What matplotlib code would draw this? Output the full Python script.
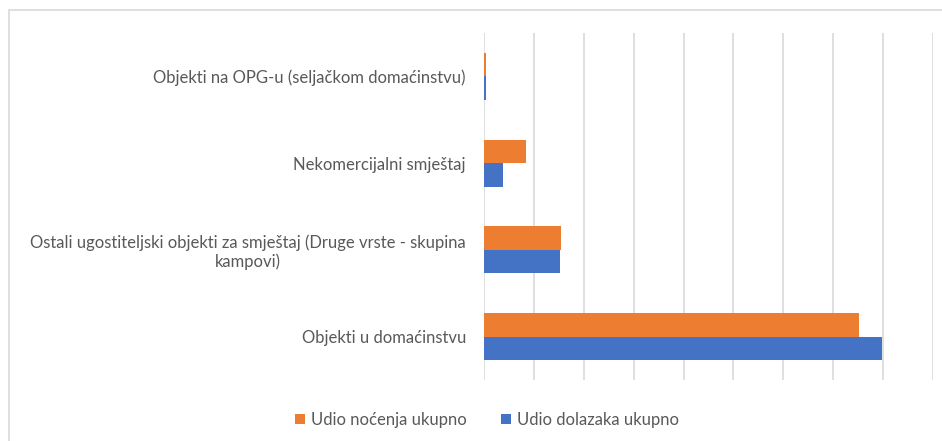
import numpy as np
import matplotlib.pyplot as plt
from matplotlib.patches import Rectangle

plt.rcParams['font.family'] = ['Lato', 'DejaVu Sans']

categories = [
    "Objekti na OPG-u (seljačkom domaćinstvu)",
    "Nekomercijalni smještaj",
    "Ostali ugostiteljski objekti za smještaj (Druge vrste - skupina\nkampovi)",
    "Objekti u domaćinstvu",
]
nocenja = [0.005, 0.084, 0.154, 0.752]   # Udio noćenja ukupno
dolasci = [0.005, 0.039, 0.152, 0.798]   # Udio dolazaka ukupno

orange = "#ED7D31"
blue = "#4472C4"
grey_txt = "#595959"

fig = plt.figure(figsize=(9.42, 4.41), dpi=100)
ax = fig.add_axes([484 / 942, 1 - 380 / 441, (933 - 484) / 942, (380 - 33) / 441])

y = np.arange(len(categories))
h = 0.27
ax.barh(y - h / 2, nocenja, height=h, color=orange, label="Udio noćenja ukupno", zorder=3)
ax.barh(y + h / 2, dolasci, height=h, color=blue, label="Udio dolazaka ukupno", zorder=3)

ax.set_ylim(len(categories) - 0.5, -0.5)
ax.set_xlim(0, 0.9)
ax.set_xticks(np.arange(0, 0.91, 0.1))
ax.set_xticklabels([])
ax.tick_params(axis='x', length=0)
ax.grid(axis='x', color="#D9D9D9", linewidth=1.2, zorder=0)
for s in ax.spines.values():
    s.set_visible(False)

ax.set_yticks(y)
ax.set_yticklabels(categories, fontsize=12, color=grey_txt, multialignment='center',
                   linespacing=1.15)
ax.tick_params(axis='y', length=0, pad=13)

handles, labels = ax.get_legend_handles_labels()
fig.legend(handles, labels, loc='center', bbox_to_anchor=(487 / 942, 1 - 420 / 441),
           ncol=2, frameon=False, fontsize=12, labelcolor=grey_txt,
           handlelength=0.6, handleheight=0.6, handletextpad=0.4, columnspacing=2.0)

fig.patches.append(Rectangle((8.5 / 942, -0.1), 1.2, 1 - 9.5 / 441 + 0.1,
                             transform=fig.transFigure, fill=False,
                             edgecolor="#D9D9D9", linewidth=1.2))

fig.savefig("out.png", dpi=100)
